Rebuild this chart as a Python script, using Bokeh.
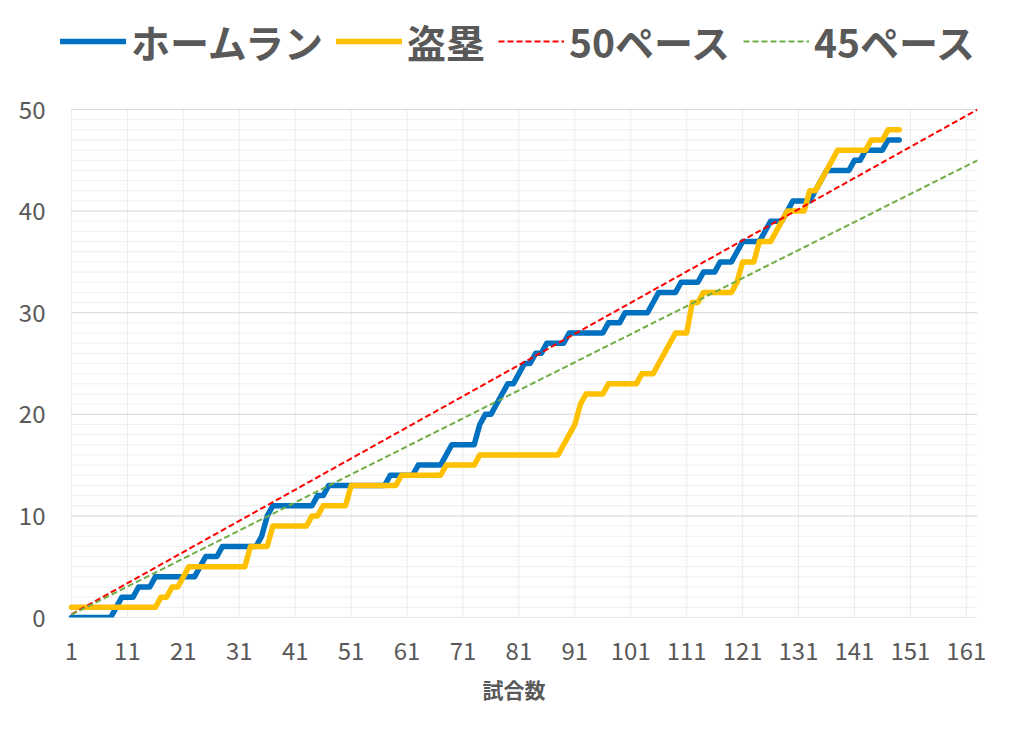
from bokeh.plotting import figure
from bokeh.models import Range1d, FixedTicker, Legend, LegendItem
from bokeh.embed import file_html
from bokeh.resources import INLINE

# ---- data ----
# cumulative home runs, games 1..149
hr = [0, 0, 0, 0, 0, 0, 0, 0, 1, 2,
      2, 2, 3, 3, 3, 4, 4, 4, 4, 4,
      4, 4, 4, 5, 6, 6, 6, 7, 7, 7,
      7, 7, 7, 7, 8, 10, 11, 11, 11, 11,
      11, 11, 11, 11, 12, 12, 13, 13, 13, 13,
      13, 13, 13, 13, 13, 13, 13, 14, 14, 14,
      14, 14, 15, 15, 15, 15, 15, 16, 17, 17,
      17, 17, 17, 19, 20, 20, 21, 22, 23, 23,
      24, 25, 25, 26, 26, 27, 27, 27, 27, 28,
      28, 28, 28, 28, 28, 28, 29, 29, 29, 30,
      30, 30, 30, 30, 31, 32, 32, 32, 32, 33,
      33, 33, 33, 34, 34, 34, 35, 35, 35, 36,
      37, 37, 37, 37, 38, 39, 39, 39, 40, 41,
      41, 41, 41, 42, 43, 44, 44, 44, 44, 44,
      45, 45, 46, 46, 46, 46, 47, 47, 47]

# cumulative stolen bases, games 1..149
sb = [1, 1, 1, 1, 1, 1, 1, 1, 1, 1,
      1, 1, 1, 1, 1, 1, 2, 2, 3, 3,
      4, 5, 5, 5, 5, 5, 5, 5, 5, 5,
      5, 5, 7, 7, 7, 7, 9, 9, 9, 9,
      9, 9, 9, 10, 10, 11, 11, 11, 11, 11,
      13, 13, 13, 13, 13, 13, 13, 13, 13, 14,
      14, 14, 14, 14, 14, 14, 14, 15, 15, 15,
      15, 15, 15, 16, 16, 16, 16, 16, 16, 16,
      16, 16, 16, 16, 16, 16, 16, 16, 17, 18,
      19, 21, 22, 22, 22, 22, 23, 23, 23, 23,
      23, 23, 24, 24, 24, 25, 26, 27, 28, 28,
      28, 31, 31, 32, 32, 32, 32, 32, 32, 33,
      35, 35, 35, 37, 37, 37, 38, 39, 40, 40,
      40, 40, 42, 42, 43, 44, 45, 46, 46, 46,
      46, 46, 46, 47, 47, 47, 48, 48, 48]

games = list(range(1, len(hr) + 1))

# pace lines (straight lines, end points)
pace_games = [1, 163]
pace50 = [0.31, 50.0]
pace45 = [0.28, 45.0]

x_first, x_last = 1, 163
x_ticks = [1, 11, 21, 31, 41, 51, 61, 71, 81, 91, 101, 111, 121, 131, 141, 151, 161]
y_ticks = [0, 10, 20, 30, 40, 50]
y_minor = list(range(0, 51))

labels = ["ホームラン", "盗塁", "50ペース", "45ペース"]
colors = ["#0070C0", "#FFC000", "#FF0000", "#70AD47"]
x_title = "試合数"

FONT = "Noto Sans CJK JP"
TXT = "#595959"

# frame is extended above / left of the plotting area so the legend fits in it
PX_X = 906 / 162.0      # pixels per game
PX_Y = 508 / 50.0       # pixels per unit
x_start = x_first - 21 / PX_X
y_end = 50 + 100 / PX_Y

p = figure(frame_width=927, frame_height=608,
           x_range=Range1d(x_start, x_last), y_range=Range1d(0, y_end),
           output_backend="svg", toolbar_location=None,
           min_border_left=50, min_border_right=39,
           min_border_top=9, min_border_bottom=124)
p.outline_line_color = None
p.background_fill_color = "white"
p.border_fill_color = "white"
p.xgrid.visible = False
p.ygrid.visible = False

# x axis
xa = p.xaxis[0]
xa.ticker = FixedTicker(ticks=x_ticks)
xa.axis_line_color = None
xa.major_tick_line_color = None
xa.minor_tick_line_color = None
xa.major_tick_out = 0
xa.major_tick_in = 0
xa.minor_tick_out = 0
xa.major_label_standoff = 24
xa.major_label_text_font = FONT
xa.major_label_text_font_size = "24px"
xa.major_label_text_color = TXT
xa.axis_label = x_title
xa.axis_label_text_font = FONT
xa.axis_label_text_font_style = "bold"
xa.axis_label_text_font_size = "21px"
xa.axis_label_text_color = TXT
xa.axis_label_standoff = 11

# y axis
ya = p.yaxis[0]
ya.ticker = FixedTicker(ticks=y_ticks)
ya.axis_line_color = None
ya.major_tick_line_color = None
ya.minor_tick_line_color = None
ya.major_tick_out = 0
ya.major_tick_in = 0
ya.minor_tick_out = 0
ya.major_label_standoff = 5
ya.major_label_text_font = FONT
ya.major_label_text_font_size = "24px"
ya.major_label_text_color = TXT

# gridlines limited to the plotting area
p.segment(x0=x_first, x1=x_last, y0=y_minor, y1=y_minor, line_color="#efefef", line_width=1)
p.segment(x0=x_ticks, x1=x_ticks, y0=0, y1=50, line_color="#ececec", line_width=1)
p.segment(x0=x_first, x1=x_last, y0=y_ticks, y1=y_ticks, line_color="#d9d9d9", line_width=1)

r_hr = p.line(games, hr, line_color=colors[0], line_width=5.5,
              line_join="round", line_cap="round")
r_sb = p.line(games, sb, line_color=colors[1], line_width=5.5,
              line_join="round", line_cap="round")
r50 = p.line(pace_games, pace50, line_color=colors[2], line_width=2, line_dash="6 3")
r45 = p.line(pace_games, pace45, line_color=colors[3], line_width=2, line_dash="6 3")

legend = Legend(items=[LegendItem(label=labels[0], renderers=[r_hr]),
                       LegendItem(label=labels[1], renderers=[r_sb]),
                       LegendItem(label=labels[2], renderers=[r50]),
                       LegendItem(label=labels[3], renderers=[r45])],
                orientation="horizontal", location=(10, 548),
                glyph_width=66, glyph_height=20, label_standoff=5, spacing=13,
                padding=0, margin=0, border_line_color=None,
                background_fill_alpha=0,
                label_text_font=FONT, label_text_font_style="bold",
                label_text_font_size="39px", label_text_color=TXT)
p.add_layout(legend)

open("out.html", "w").write(file_html(p, INLINE))
